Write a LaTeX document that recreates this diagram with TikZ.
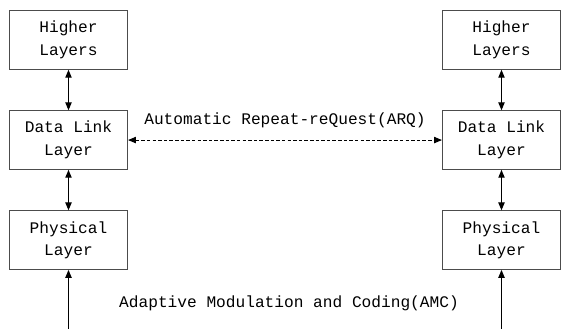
\documentclass[tikz,border=0pt]{standalone}
\usepackage{fontspec}
\setmainfont{Liberation Mono}
\usepackage{tikz}
\usetikzlibrary{positioning,arrows.meta}

\tikzset{
  layerbox/.style={draw=black!70, line width=0.6pt, minimum width=2.36cm, minimum height=1.17cm,
    align=center, inner sep=1pt, font=\fontsize{9.2}{12.8}\selectfont},
  link/.style={{Triangle[length=4.5pt,width=3.6pt]}-{Triangle[length=4.5pt,width=3.6pt]}, line width=0.6pt},
  upward/.style={-{Triangle[length=4.5pt,width=3.6pt]}, line width=0.6pt},
  lbl/.style={font=\fontsize{9.2}{11}\selectfont, inner sep=0pt}
}

\begin{document}
\begin{tikzpicture}
					% Frame
					\useasboundingbox (0,0) rectangle (11.22,-6.58);
					% Left stack
					\node[layerbox] (hlA) at (1.37,-0.8) {Higher\\Layers};
					\node[layerbox, below=0.81cm of hlA] (dlA) {Data Link\\Layer};
					\node[layerbox, below=0.81cm of dlA] (phA) {Physical\\Layer};
					% Right stack
					\node[layerbox] (hlB) at (10.03,-0.8) {Higher\\Layers};
					\node[layerbox, below=0.81cm of hlB] (dlB) {Data Link\\Layer};
					\node[layerbox, below=0.81cm of dlB] (phB) {Physical\\Layer};
					% Vertical links
					\foreach \s in {A,B}{
						\draw[link] (hl\s) -- (dl\s);
						\draw[link] (dl\s) -- (ph\s);}
					\coordinate (inA) at (1.37,-6.58);
					\coordinate (inB) at (10.03,-6.58);
					\draw[upward] (inA) -- (phA);
					\draw[upward] (inB) -- (phB);
					% ARQ and AMC
					\draw[link, dash pattern=on 2pt off 1.2pt] (dlA) -- node[lbl, above=0.24cm] (arq) {Automatic Repeat-reQuest(ARQ)} (dlB);
					\node[lbl] (amc) at (5.78,-6.06) {Adaptive Modulation and Coding(AMC)};
				\end{tikzpicture}
\end{document}
